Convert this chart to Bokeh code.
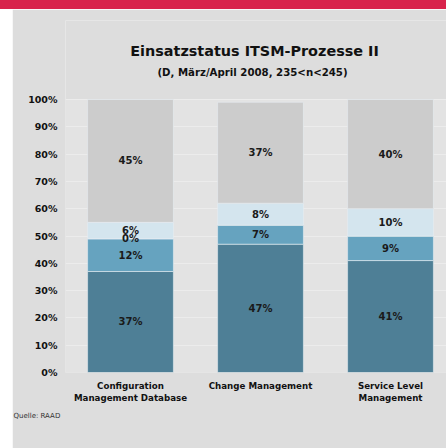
import numpy as np
from bokeh.plotting import figure
from bokeh.models import FixedTicker, Div, Range1d, Title
from bokeh.layouts import column
from bokeh.core.properties import value
from bokeh.embed import file_html
from bokeh.resources import INLINE

# ---------------- data ----------------
categories = ["Configuration\nManagement Database", "Change Management", "Service Level\nManagement"]
s_eingefuehrt = [37, 47, 41]
s_teilweise = [12, 7, 9]
s_keine_angabe = [0, np.nan, np.nan]
s_geplant = [6, 8, 10]
s_nicht_geplant = [45, 37, 40]
y_ticks = [0, 10, 20, 30, 40, 50, 60, 70, 80, 90, 100]
y_tick_labels = ["0%", "10%", "20%", "30%", "40%", "50%", "60%", "70%", "80%", "90%", "100%"]
title_text = "Einsatzstatus ITSM-Prozesse II"
subtitle_text = "(D, März/April 2008, 235<n<245)"
source_text = "Quelle: RAAD"

series = [s_eingefuehrt, s_teilweise, s_keine_angabe, s_geplant, s_nicht_geplant]
colors = ["#4e7f96", "#66a3bf", "#d4e5ee", "#d4e5ee", "#cccccc"]

FONT = value("DejaVu Sans")
PANEL = "#dddddd"
PLOTAREA = "#e3e3e3"

# ---------------- layout geometry (page px) ----------------
FIG_X0, FIG_Y0 = 12, 9
W, H = 434, 439
FR_L, FR_T, FR_B = 65, 20, 372          # frame (extended upward to hold the titles)
PA_T = 99                               # top of the plotting area (100 %)
X_START, X_END = -0.5, 2.4308
PX_PER_PCT = (FR_B - PA_T) / 100.0
Y_END = (FR_B - FR_T) / PX_PER_PCT

def dx(px):
    return X_START + (px - FR_L) / 130.0

def dy(py):
    return (FR_B - py) / PX_PER_PCT

p = figure(width=W, height=H, output_backend="svg", toolbar_location=None,
           x_range=Range1d(X_START, X_END), y_range=Range1d(0, Y_END),
           min_border_left=FR_L - FIG_X0, min_border_right=0,
           min_border_top=FR_T - FIG_Y0, min_border_bottom=FIG_Y0 + H - FR_B,
           border_fill_color=PANEL, background_fill_color=PANEL,
           outline_line_color=None)
p.margin = (0, 0, 0, FIG_X0)

# lighter plotting area
p.quad(left=[X_START], right=[X_END], bottom=[y_ticks[0]], top=[y_ticks[-1]],
       fill_color=PLOTAREA, line_color=None, level="image")

xs = np.arange(len(categories))
bottom = np.zeros(len(categories))
lab_x, lab_y, lab_t = [], [], []
for vals, col in zip(series, colors):
    v = np.array(vals, dtype=float)
    vv = np.nan_to_num(v)
    top = bottom + vv
    p.vbar(x=xs, bottom=bottom, top=top, width=0.66, fill_color=col,
           line_color="#e6edf1", line_width=0.6)
    for i in range(len(categories)):
        if not np.isnan(v[i]):
            lab_x.append(xs[i])
            lab_y.append((bottom[i] + top[i]) / 2)
            lab_t.append(f"{int(v[i])}%")
    bottom = top

p.text(x=lab_x, y=lab_y, text=lab_t, text_align="center", text_baseline="middle",
       text_font=FONT, text_font_style="bold", text_font_size="10px", text_color="#1a1a1a")

# title and subtitle
p.text(x=[dx(254)], y=[dy(50)], text=[title_text], text_align="center", text_baseline="middle",
       text_font=FONT, text_font_style="bold", text_font_size="14.4px", text_color="#111111")
p.text(x=[dx(252)], y=[dy(72)], text=[subtitle_text], text_align="center", text_baseline="middle",
       text_font=FONT, text_font_style="bold", text_font_size="10.2px", text_color="#111111")

# axes
p.yaxis.ticker = FixedTicker(ticks=y_ticks)
p.yaxis.major_label_overrides = {t: l for t, l in zip(y_ticks, y_tick_labels)}
p.yaxis.axis_line_color = None
p.yaxis.major_tick_line_color = None
p.yaxis.minor_tick_line_color = None
p.yaxis.major_tick_out = 0
p.yaxis.major_tick_in = 0
p.yaxis.major_label_standoff = 8
p.yaxis.major_label_text_font = "DejaVu Sans"
p.yaxis.major_label_text_font_style = "bold"
p.yaxis.major_label_text_font_size = "9.5px"
p.yaxis.major_label_text_color = "#111111"

p.xaxis.ticker = FixedTicker(ticks=list(xs))
p.xaxis.major_label_overrides = {int(i): c for i, c in zip(xs, categories)}
p.xaxis.axis_line_color = None
p.xaxis.major_tick_line_color = None
p.xaxis.minor_tick_line_color = None
p.xaxis.major_tick_out = 0
p.xaxis.major_tick_in = 0
p.xaxis.major_label_standoff = 8
p.xaxis.major_label_text_font = "DejaVu Sans"
p.xaxis.major_label_text_font_style = "bold"
p.xaxis.major_label_text_font_size = "8.7px"
p.xaxis.major_label_text_color = "#111111"

p.xgrid.grid_line_color = None
p.ygrid.ticker = FixedTicker(ticks=y_ticks)
p.ygrid.grid_line_color = "#ececec"
p.ygrid.level = "underlay"

p.add_layout(Title(text=source_text, align="left", text_font="DejaVu Sans",
                   text_font_style="normal", text_font_size="7px", text_color="#333333",
                   offset=FIG_X0 + 1 - FR_L, standoff=8), "below")

band = Div(width=446, height=9, margin=0, styles={"background-color": "#d8234b"})
layout = column(band, p, spacing=0, margin=0,
                styles={"position": "absolute", "left": "0px", "top": "0px"})

open("out.html", "w").write(file_html(layout, INLINE))
